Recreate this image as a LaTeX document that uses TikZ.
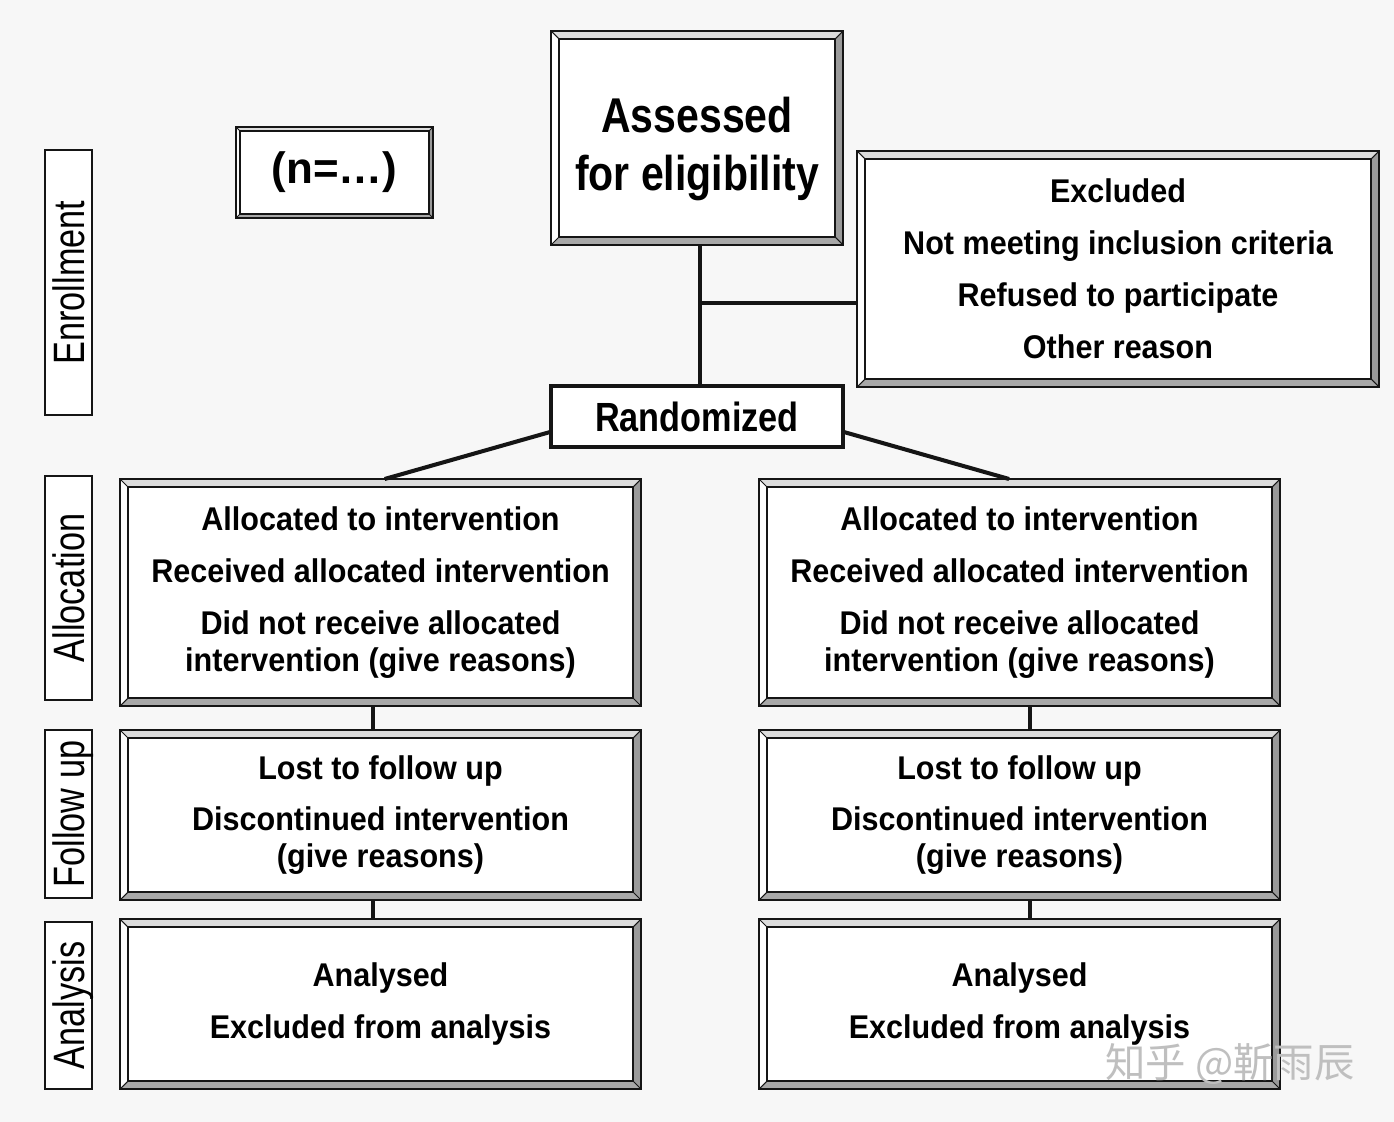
\documentclass[tikz,border=0pt]{standalone}
\usepackage{fontspec}
\setmainfont{Liberation Sans}
\newfontfamily\bodyf[FakeStretch=0.93]{Liberation Sans}
\newfontfamily\titlef[FakeStretch=0.84]{Liberation Sans}
\newfontfamily\labelf[FakeStretch=0.78]{Liberation Sans}
\newfontfamily\cjkf{Noto Sans CJK SC}
\usetikzlibrary{calc}
\definecolor{bg}{HTML}{F7F7F7}
\definecolor{bevtop}{HTML}{DCDCDC}
\definecolor{bevleft}{HTML}{FDFDFD}
\definecolor{bevright}{HTML}{9A9A9A}
\definecolor{bevbot}{HTML}{A8A8A8}
\definecolor{ink}{HTML}{151515}
\tikzset{
  cbox/.style={fill=white, inner sep=0pt, outer sep=0pt, align=center},
  bodytext/.style={font={\bodyf\bfseries\fontsize{18.7pt}{21pt}\selectfont}},
  titletext/.style={font={\titlef\bfseries\fontsize{27.8pt}{34pt}\selectfont}},
  randtext/.style={font={\titlef\bfseries\fontsize{23.2pt}{26pt}\selectfont}},
  ntext/.style={font={\bfseries\fontsize{25pt}{28pt}\selectfont}},
  frame/.style={draw=ink, line width=1.2pt},
  cornerline/.style={draw=ink, line width=0.6pt},
  conn/.style={draw=ink, line width=2.3pt},
  randbox/.style={cbox, draw=ink, line width=1.9pt},
  labbox/.style={fill=white, draw=ink, line width=1.6pt, inner sep=0pt, outer sep=0pt,
    rotate=90, font={\labelf\fontsize{25pt}{28pt}\selectfont}, text height=18.2pt, text depth=0pt},
  wmark/.style={font={\cjkf\fontsize{23pt}{26pt}\selectfont}, text=black!25}
}
% box node: style, name, x1, y1, x2, y2, text
\newcommand{\mkbox}[7]{\node[#1,minimum width={(#5-#3)*0.02cm},minimum height={(#6-#4)*0.02cm}] (#2) at ({(#3+#5)/2},{(#4+#6)/2}) {#7};}
% rotated label node: name, x1, y1, x2, y2, text
\newcommand{\mklab}[6]{\node[labbox,minimum width={(#5-#3)*0.02cm},minimum height={(#4-#2)*0.02cm}] (#1) at ({(#2+#4)/2},{(#3+#5)/2}) {#6};}
% bevel frame around a node: name, bevel width (px)
\newcommand{\bev}[2]{%
  \path (#1.north west) coordinate (o1) (#1.north east) coordinate (o2)
        (#1.south east) coordinate (o3) (#1.south west) coordinate (o4);
  \path ($(o1)+(#2,#2)$) coordinate (i1) ($(o2)+(-#2,#2)$) coordinate (i2)
        ($(o3)+(-#2,-#2)$) coordinate (i3) ($(o4)+(#2,-#2)$) coordinate (i4);
  \fill[bevtop] (o1)--(o2)--(i2)--(i1)--cycle;
  \fill[bevleft] (o1)--(i1)--(i4)--(o4)--cycle;
  \fill[bevright] (o2)--(o3)--(i3)--(i2)--cycle;
  \fill[bevbot] (o4)--(i4)--(i3)--(o3)--cycle;
  \draw[cornerline] (o1)--(i1) (o2)--(i2) (o3)--(i3) (o4)--(i4);
  \draw[frame] (o1) rectangle (o3);
  \draw[frame] (i1) rectangle (i3);
}
\begin{document}
\begin{tikzpicture}[x=0.02cm,y=-0.02cm]
\fill[bg] (0,0) rectangle (1394,1122);
\useasboundingbox (0,0) rectangle (1394,1122);

% boxes
\mkbox{cbox,titletext}{assess}{551}{31}{843}{245}{\rule{0pt}{33pt}Assessed\\[-1pt]for eligibility}
\mkbox{cbox,ntext}{nbox}{236}{127}{433}{218}{(n=…)}
\mkbox{cbox,bodytext}{excl}{857}{151}{1379}{387}{Excluded\\[8.5pt]Not meeting inclusion criteria\\[8.5pt]Refused to participate\\[8.5pt]Other reason}
\mkbox{randbox,randtext}{rand}{551}{386}{843}{447}{Randomized}

\mkbox{cbox,bodytext}{la}{120}{479}{641}{706}{Allocated to intervention\\[8.5pt]Received allocated intervention\\[8.5pt]Did not receive allocated\\intervention (give reasons)}
\mkbox{cbox,bodytext}{ra}{759}{479}{1280}{706}{Allocated to intervention\\[8.5pt]Received allocated intervention\\[8.5pt]Did not receive allocated\\intervention (give reasons)}
\mkbox{cbox,bodytext}{lf}{120}{730}{641}{900}{Lost to follow up\\[8.5pt]Discontinued intervention\\(give reasons)}
\mkbox{cbox,bodytext}{rf}{759}{730}{1280}{900}{Lost to follow up\\[8.5pt]Discontinued intervention\\(give reasons)}
\mkbox{cbox,bodytext}{ln}{120}{919}{641}{1089}{Analysed\\[8.5pt]Excluded from analysis}
\mkbox{cbox,bodytext}{rn}{759}{919}{1280}{1089}{Analysed\\[8.5pt]Excluded from analysis}

\bev{assess}{8}
\bev{nbox}{4}
\bev{excl}{8}
\bev{la}{8}
\bev{ra}{8}
\bev{lf}{8}
\bev{rf}{8}
\bev{ln}{8}
\bev{rn}{8}

% stage labels
\mklab{lenr}{45}{150}{92}{415}{Enrollment}
\mklab{lall}{45}{476}{92}{700}{Allocation}
\mklab{lfol}{45}{730}{92}{898}{Follow up}
\mklab{lana}{45}{922}{92}{1089}{Analysis}

% connectors
\draw[conn] ([xshift=3*0.02cm]assess.south) -- ([xshift=3*0.02cm]rand.north);
\coordinate (junc) at (700,303);
\draw[conn] (junc) -- (junc -| excl.west);
\draw[conn] ($(rand.north west)!0.75!(rand.south west)$) -- ($(la.north west)!0.508!(la.north east)$);
\draw[conn] ($(rand.north east)!0.75!(rand.south east)$) -- ($(ra.north west)!0.48!(ra.north east)$);
\draw[conn] ($(la.south west)!0.486!(la.south east)$) -- ($(lf.north west)!0.486!(lf.north east)$);
\draw[conn] ($(lf.south west)!0.486!(lf.south east)$) -- ($(ln.north west)!0.486!(ln.north east)$);
\draw[conn] ($(ra.south west)!0.52!(ra.south east)$) -- ($(rf.north west)!0.52!(rf.north east)$);
\draw[conn] ($(rf.south west)!0.52!(rf.south east)$) -- ($(rn.north west)!0.52!(rn.north east)$);

% watermark
\node[wmark] (wm) at (1230,1064) {知乎 @靳雨辰};
\end{tikzpicture}
\end{document}
